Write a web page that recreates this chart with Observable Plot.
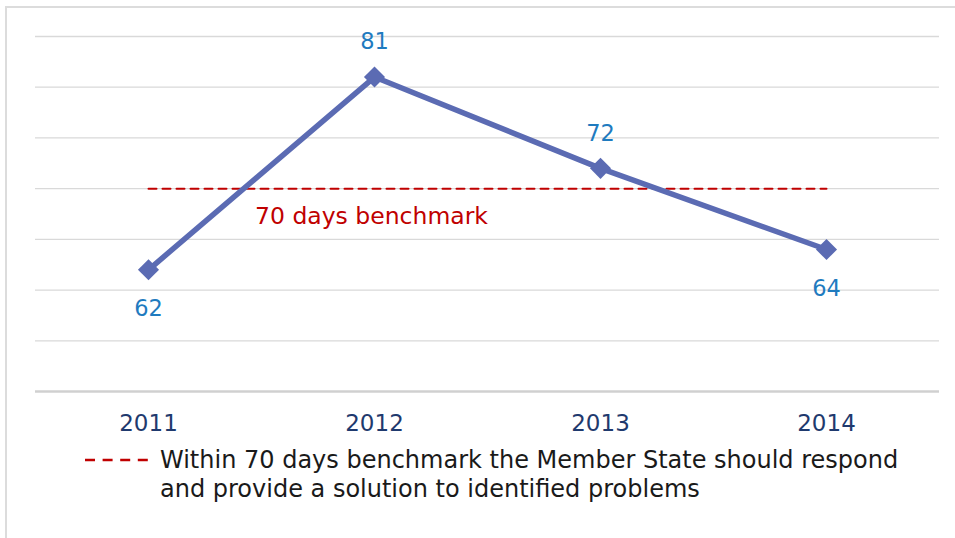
<!DOCTYPE html>
<html>
<head>
<meta charset="utf-8">
<script src="https://cdn.jsdelivr.net/npm/d3@7"></script>
<script src="https://cdn.jsdelivr.net/npm/@observablehq/plot@0.6"></script>
<style>
  html, body { margin: 0; padding: 0; background: #fff; }
  #wrap { position: relative; width: 955px; height: 538px; overflow: hidden; font-family: "DejaVu Sans", Verdana, sans-serif; }
  #frame { position: absolute; left: 5px; top: 6px; width: 1000px; height: 600px; border-left: 2px solid #dcdcdc; border-top: 2px solid #dcdcdc; box-sizing: border-box; pointer-events: none; }
  #chart svg { display: block; }
  #legend { position: relative; height: 98px; }
  #legend .swatch { position: absolute; left: 85px; top: 18px; }
  #legend .txt { position: absolute; left: 160px; top: 6px; font-size: 24px; line-height: 29px; color: #1a1a1a; white-space: nowrap; }
</style>
</head>
<body>
<div id="wrap">
  <div id="frame"></div>
  <div id="chart"></div>
  <div id="legend">
    <svg class="swatch" width="64" height="4"><line x1="0" y1="2" x2="64" y2="2" stroke="#c00000" stroke-width="2.5" stroke-dasharray="10,7.6"></line></svg>
    <div class="txt"></div>
  </div>
</div>
<script>
const years = ["2011", "2012", "2013", "2014"];
const days = [62, 81, 72, 64];
const benchmarkValue = 70;
const benchmarkLabel = "70 days benchmark";
const labelAbove = [false, true, true, false];
const gridTicks = [55, 60, 65, 70, 75, 80, 85];
const legendLines = ["Within 70 days benchmark the Member State should respond", "and provide a solution to identified problems"];

const rows = years.map((y, i) => ({year: y, value: days[i], above: labelAbove[i]}));
const benchRows = years.map(y => ({year: y, value: benchmarkValue}));

const chart = Plot.plot({
  width: 955,
  height: 440,
  marginTop: 36,
  marginBottom: 49,
  marginLeft: 35,
  marginRight: 16,
  style: {fontFamily: "'DejaVu Sans', Verdana, sans-serif", background: "transparent"},
  x: {type: "point", domain: years, padding: 0.5},
  y: {domain: [50, 85], axis: null},
  marks: [
    Plot.ruleY(gridTicks, {stroke: "#d9d9d9", strokeWidth: 1.3}),
    Plot.ruleY([50], {stroke: "#d0d0d0", strokeWidth: 2.5}),
    Plot.axisX({tickSize: 0, tickPadding: 23, fontSize: 23, fill: "#1f3a6e", label: null}),
    Plot.lineY(benchRows, {x: "year", y: "value", stroke: "#c00000", strokeWidth: 2, strokeDasharray: "8,6"}),
    Plot.text([{year: years[1], value: benchmarkValue}], {x: "year", y: "value", text: () => benchmarkLabel, dy: 28, dx: -3, fontSize: 23.5, fill: "#c00000"}),
    Plot.lineY(rows, {x: "year", y: "value", stroke: "#5b6bb3", strokeWidth: 5.5}),
    Plot.dot(rows, {x: "year", y: "value", symbol: "diamond2", r: 9.5, fill: "#5b6bb3", stroke: "none"}),
    Plot.text(rows.filter(d => d.above), {x: "year", y: "value", text: d => String(d.value), dy: -35, fontSize: 22.5, fill: "#1f7bbf"}),
    Plot.text(rows.filter(d => !d.above), {x: "year", y: "value", text: d => String(d.value), dy: 39, fontSize: 22.5, fill: "#1f7bbf"})
  ]
});
document.getElementById("chart").appendChild(chart);
document.querySelector("#legend .txt").innerHTML = legendLines.join("<br>");
</script>
</body>
</html>
